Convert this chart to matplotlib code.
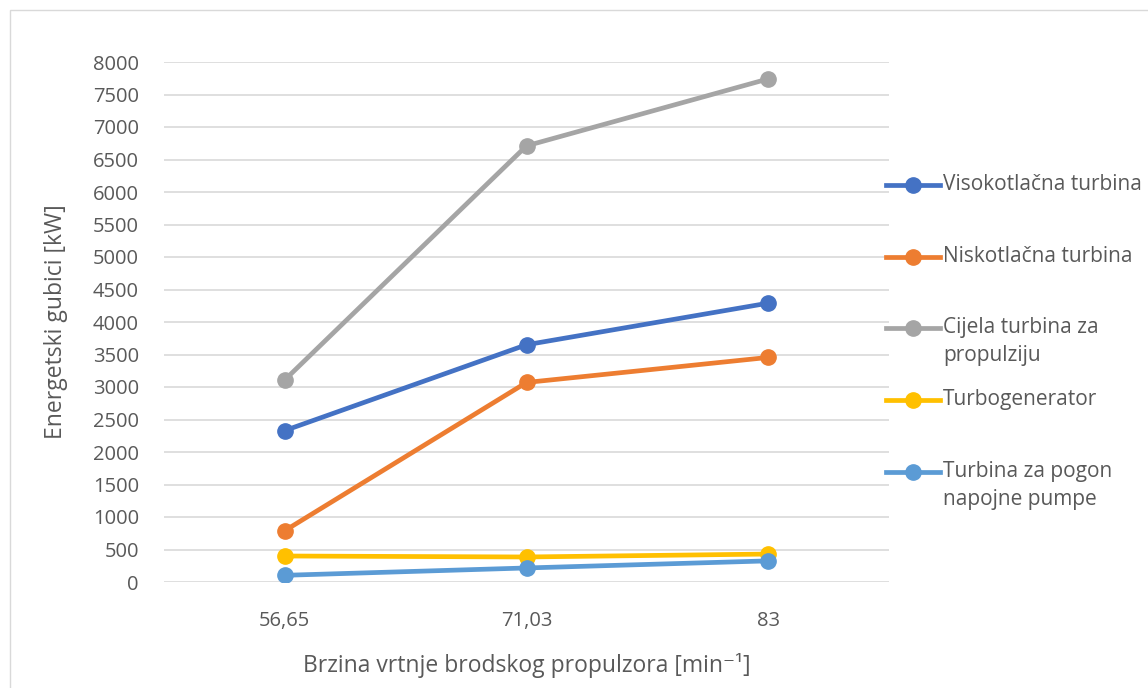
import matplotlib
matplotlib.use("Agg")
import matplotlib.pyplot as plt
from matplotlib.lines import Line2D
from matplotlib.patches import Rectangle

plt.rcParams['font.family'] = ['Open Sans', 'DejaVu Sans']

# data
brzina = ['56,65', '71,03', '83']
visokotlacna = [2330, 3650, 4290]
niskotlacna = [790, 3070, 3455]
cijela = [3110, 6710, 7740]
turbogenerator = [400, 385, 430]
pogon_pumpe = [103, 216, 325]

nazivi = ['Visokotlačna turbina', 'Niskotlačna turbina', 'Cijela turbina za\npropulziju',
          'Turbogenerator', 'Turbina za pogon\nnapojne pumpe']
serije = [visokotlacna, niskotlacna, cijela, turbogenerator, pogon_pumpe]
boje = ['#4472C4', '#ED7D31', '#A5A5A5', '#FFC000', '#5B9BD5']

txt = '#595959'
W, H = 1148, 688

fig = plt.figure(figsize=(W/100, H/100), dpi=100)
ax = fig.add_axes([164/W, 1-582/H, (889-164)/W, (582-62)/H])

x = range(len(brzina))
for y, c in zip(serije, boje):
    ax.plot(x, y, color=c, lw=3.4, marker='o', ms=11, solid_capstyle='round', zorder=3)

ax.set_xlim(-0.5, len(brzina)-0.5)
ax.set_ylim(0, 8000)
ax.set_yticks(range(0, 8001, 500))
ax.set_xticks(list(x))
ax.set_xticklabels(brzina)
ax.grid(axis='y', color='#D9D9D9', lw=1.2, zorder=0)
for s in ax.spines.values():
    s.set_visible(False)
ax.tick_params(length=0, labelsize=14.5, labelcolor=txt)
ax.tick_params(axis='x', pad=21)
ax.tick_params(axis='y', pad=18)

ax.set_ylabel('Energetski gubici [kW]', fontsize=16.5, color=txt, labelpad=18)
ax.set_xlabel('Brzina vrtnje brodskog propulzora [min⁻¹]', fontsize=16.5, color=txt, labelpad=16)

# legenda
leg_y = [185, 257, 328, 400, 472]
for ly, naziv, c in zip(leg_y, nazivi, boje):
    yf = 1 - ly/H
    fig.add_artist(Line2D([886/W, 940/W], [yf, yf], color=c, lw=3.4))
    fig.add_artist(Line2D([913/W], [yf], color=c, marker='o', ms=11))
    for i, red in enumerate(naziv.split('\n')):
        fig.text(943/W, yf - i*28/H, red, fontsize=15, color=txt, va='center', ha='left')

fig.add_artist(Rectangle((10/W, -0.01), 1.02, 1 - 10/H + 0.01, fill=False,
                         edgecolor='#D9D9D9', lw=1, transform=fig.transFigure))

fig.savefig('out.png', dpi=100)
